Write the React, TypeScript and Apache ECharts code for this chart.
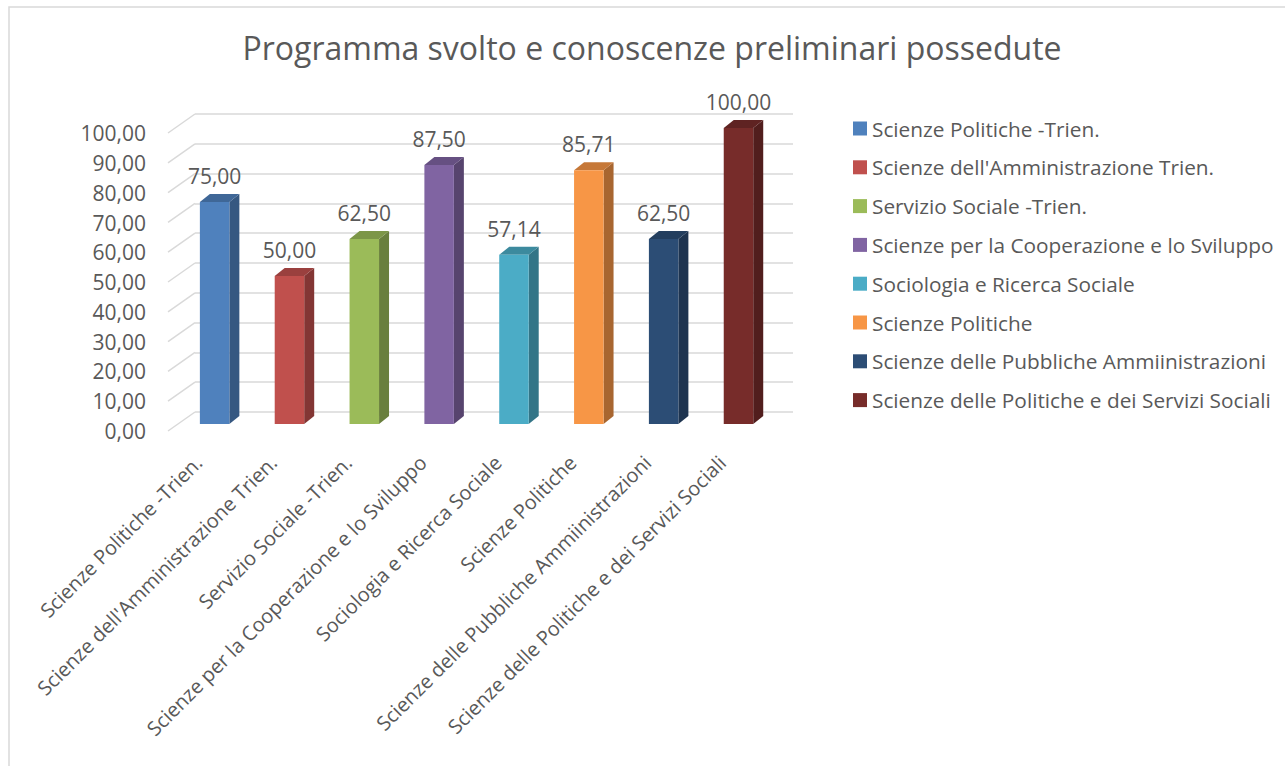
import React, { useEffect, useRef } from "react";
import * as echarts from "echarts";

const categories = [
  "Scienze Politiche -Trien.",
  "Scienze dell'Amministrazione Trien.",
  "Servizio Sociale -Trien.",
  "Scienze per la Cooperazione e lo Sviluppo",
  "Sociologia e Ricerca Sociale",
  "Scienze Politiche",
  "Scienze delle Pubbliche Ammiinistrazioni",
  "Scienze delle Politiche e dei Servizi Sociali",
];
const values = [75, 50, 62.5, 87.5, 57.14, 85.71, 62.5, 100];
const colors = ["#4F81BD", "#C0504D", "#9BBB59", "#8064A2", "#4BACC6", "#F79646", "#2C4D75", "#772C2A"];
const yTicks = [0, 10, 20, 30, 40, 50, 60, 70, 80, 90, 100];
const titleText = "Programma svolto e conoscenze preliminari possedute";

const FONT = "'Open Sans', Lato, sans-serif";
const TEXT = "#595959";

function fmt(v: number): string {
  return v.toFixed(2).replace(".", ",");
}

function shade(hex: string, f: number): string {
  const n = parseInt(hex.slice(1), 16);
  const r = Math.round(((n >> 16) & 255) * f);
  const g = Math.round(((n >> 8) & 255) * f);
  const b = Math.round((n & 255) * f);
  return `rgb(${r},${g},${b})`;
}

export default function App() {
  const ref = useRef<HTMLDivElement>(null);
  useEffect(() => {
    if (!ref.current) return;
    const chart = echarts.init(ref.current, undefined, { renderer: "svg" });
    const DX = 10;
    const DY = -8;
    const barSeries = categories.map((name, i) => ({
      type: "custom",
      name,
      xAxisIndex: 0,
      yAxisIndex: 0,
      itemStyle: { color: colors[i] },
      data: [[i, values[i]]],
      renderItem: (params: any, api: any) => {
        const idx = api.value(0);
        const v = api.value(1);
        const top = api.coord([idx, v]);
        const base = api.coord([idx, 0]);
        const band = api.size([1, 0])[0];
        const w = band * 0.394;
        const x0 = top[0] - w / 2;
        const x1 = top[0] + w / 2;
        const yT = top[1];
        const yB = base[1];
        const c = colors[i];
        return {
          type: "group",
          children: [
            {
              type: "polygon",
              shape: { points: [[x1, yT], [x1 + DX, yT + DY], [x1 + DX, yB + DY], [x1, yB]] },
              style: { fill: shade(c, 0.68) },
            },
            {
              type: "polygon",
              shape: { points: [[x0, yT], [x0 + DX, yT + DY], [x1 + DX, yT + DY], [x1, yT]] },
              style: { fill: shade(c, 0.8) },
            },
            {
              type: "rect",
              shape: { x: x0, y: yT, width: w, height: yB - yT },
              style: { fill: c },
            },
            {
              type: "text",
              style: {
                text: fmt(v),
                x: top[0],
                y: yT - 26,
                align: "center",
                verticalAlign: "middle",
                textAlign: "center",
                textVerticalAlign: "middle",
                fill: TEXT,
                fontSize: 21,
                fontFamily: FONT,
              },
            },
          ],
        };
      },
    }));

    const slantSeries = {
      type: "custom",
      name: "slant",
      xAxisIndex: 1,
      yAxisIndex: 1,
      silent: true,
      data: yTicks.map((v) => [0, v]),
      renderItem: (params: any, api: any) => {
        const p = api.coord([0, api.value(1)]);
        const x = params.coordSys.x;
        return {
          type: "line",
          shape: { x1: x - 27, y1: p[1] + 19, x2: x, y2: p[1] },
          style: { stroke: "#d9d9d9", lineWidth: 1.5 },
        };
      },
    };

    chart.setOption({
      animation: false,
      backgroundColor: "#ffffff",
      title: {
        text: titleText,
        left: 652,
        top: 31,
        textAlign: "center",
        padding: 0,
        textStyle: { fontSize: 32, fontWeight: "normal", color: TEXT, fontFamily: FONT },
      },
      graphic: [
        {
          type: "rect",
          shape: { x: 9, y: 7, width: 1300, height: 800 },
          style: { fill: "none", stroke: "#d9d9d9", lineWidth: 1.5 },
          silent: true,
          z: -10,
        },
      ],
      legend: {
        orient: "vertical",
        left: 853,
        top: 118,
        padding: 0,
        itemWidth: 14,
        itemHeight: 14,
        itemGap: 17.8,
        icon: "rect",
        data: categories,
        textStyle: { fontSize: 20.8, lineHeight: 20, color: TEXT, fontFamily: FONT },
      },
      grid: [
        { left: 177.2, top: 128, width: 598.7, height: 296 },
        { left: 195, top: 114, width: 598, height: 298 },
        { left: 161, top: 133.3, width: 598.7, height: 297.7 },
      ],
      xAxis: [
        { type: "category", gridIndex: 0, data: categories, show: false },
        { type: "category", gridIndex: 1, data: categories, show: false },
        {
          type: "category",
          gridIndex: 2,
          data: categories,
          axisLine: { show: false },
          axisTick: { show: false },
          axisLabel: { interval: 0, rotate: 45, margin: 28, fontSize: 20, color: TEXT, fontFamily: FONT },
        },
      ],
      yAxis: [
        { type: "value", gridIndex: 0, min: 0, max: 100, show: false },
        {
          type: "value",
          gridIndex: 1,
          min: 0,
          max: 100,
          interval: 10,
          axisLabel: { show: false },
          axisLine: { show: false },
          axisTick: { show: false },
          splitLine: { lineStyle: { color: "#d9d9d9", width: 1.5 } },
        },
        {
          type: "value",
          gridIndex: 2,
          min: 0,
          max: 100,
          interval: 10,
          axisLine: { show: false },
          axisTick: { show: false },
          splitLine: { show: false },
          axisLabel: { margin: 15, fontSize: 21, color: TEXT, fontFamily: FONT, formatter: (v: number) => fmt(v) },
        },
      ],
      series: [...barSeries, slantSeries],
    });
    return () => chart.dispose();
  }, []);
  return <div ref={ref} style={{ position: "absolute", left: 0, top: 0, width: 1285, height: 766 }} />;
}
